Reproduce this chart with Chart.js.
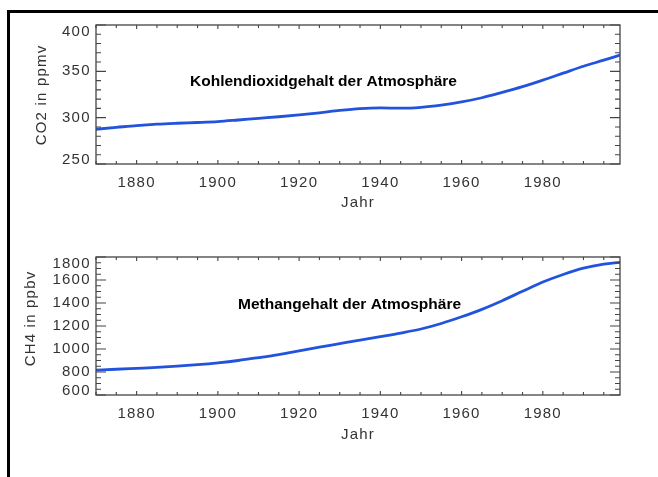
<!DOCTYPE html>
<html lang="de">
<head>
    <meta charset="UTF-8">
    <title>Kohlendioxid- und Methangehalt der Atmosphäre</title>
    <script src="https://cdn.jsdelivr.net/npm/chart.js"></script>
    <style>
        body { margin: 0; background: #fff; }
        .page { position: relative; width: 658px; height: 477px; overflow: hidden; background: #fff; }
        .frame { position: absolute; left: 7px; top: 10px; right: -10px; bottom: -10px;
                 border-top: 3px solid #000; border-left: 3px solid #000; }
        canvas { position: absolute; left: 0; }
        #co2Chart { top: 0; }
        #ch4Chart { top: 240px; }
    </style>
</head>
<body>
<div class="page">
    <div class="frame"></div>
    <canvas id="co2Chart" width="658" height="240"></canvas>
    <canvas id="ch4Chart" width="658" height="237"></canvas>
</div>

<script>
    // Data
    const years = [1870, 1875, 1880, 1885, 1890, 1895, 1900, 1905, 1910, 1915, 1920, 1925, 1930, 1935,
                   1940, 1945, 1950, 1955, 1960, 1965, 1970, 1975, 1980, 1985, 1990, 1995, 1999];
    const co2Values = [287.5, 289.5, 291.5, 293, 294, 294.8, 295.8, 297.5, 299.3, 301, 303, 305.2, 307.8, 309.8,
                       310.6, 310.2, 311.2, 313.6, 317, 321.5, 327.3, 333.5, 340.5, 348, 355.5, 362, 367.5];
    const ch4Values = [817, 824, 832, 840, 851, 864, 880, 900, 925, 952, 984, 1016, 1047, 1078,
                       1108, 1139, 1174, 1222, 1280, 1345, 1420, 1502, 1582, 1648, 1703, 1738, 1754];

    // Tick labels
    const yearTicks = [1880, 1900, 1920, 1940, 1960, 1980];
    const co2Ticks = [250, 300, 350, 400];
    const ch4Ticks = [600, 800, 1000, 1200, 1400, 1600, 1800];

    const textColor = '#333';
    const tickFont = { family: 'Liberation Sans, Arial, sans-serif', size: 15 };
    const lineColor = '#2153dc';

    // IDL-style box with inward ticks, clamped y labels and inner titles
    const idlAxes = {
        id: 'idlAxes',
        beforeDraw(chart) {
            chart.ctx.letterSpacing = '1.2px';
        },
        afterDraw(chart, args, opts) {
            const { ctx, chartArea: a, scales: { x, y } } = chart;
            ctx.save();
            ctx.strokeStyle = '#444';
            ctx.lineWidth = 1.3;
            ctx.strokeRect(a.left, a.top, a.right - a.left, a.bottom - a.top);

            ctx.lineWidth = 1.1;
            ctx.beginPath();
            // x ticks, bottom and top
            for (let v = opts.xMin; v <= opts.xMax; v += opts.xMinor) {
                const px = x.getPixelForValue(v);
                const len = v % opts.xMajor === 0 ? 4 : 3;
                ctx.moveTo(px, a.bottom); ctx.lineTo(px, a.bottom - len);
                ctx.moveTo(px, a.top); ctx.lineTo(px, a.top + len);
            }
            // y ticks, left and right
            for (let v = y.min; v <= y.max; v += opts.yMinor) {
                const py = y.getPixelForValue(v);
                const len = v % opts.yMajor === 0 ? 10 : 5;
                ctx.moveTo(a.left, py); ctx.lineTo(a.left + len, py);
                ctx.moveTo(a.right, py); ctx.lineTo(a.right - len, py);
            }
            ctx.stroke();

            // y tick labels, kept inside the axis extent
            ctx.font = `${tickFont.size}px ${tickFont.family}`;
            ctx.fillStyle = textColor;
            ctx.textAlign = 'right';
            ctx.textBaseline = 'middle';
            opts.yLabels.forEach(v => {
                let py = y.getPixelForValue(v);
                py = Math.min(Math.max(py, a.top + 6.7), a.bottom - 4.5);
                ctx.fillText(String(v), a.left - 5.3, py);
            });

            // y axis title
            ctx.save();
            ctx.translate(opts.yTitleX, opts.yTitleY);
            ctx.rotate(-Math.PI / 2);
            ctx.textAlign = 'center';
            ctx.fillText(opts.yTitle, 0, 0);
            ctx.restore();

            // bold title inside the plot
            ctx.letterSpacing = '0px';
            ctx.font = 'bold 15.5px Liberation Sans, Arial, sans-serif';
            ctx.fillStyle = '#000';
            ctx.textAlign = 'left';
            ctx.fillText(opts.title, opts.titleX, opts.titleY);
            ctx.restore();
        }
    };

    function makeChart(canvasId, values, yMin, yMax, yLabels, cfg) {
        const ctx = document.getElementById(canvasId).getContext('2d');
        return new Chart(ctx, {
            type: 'line',
            data: {
                datasets: [{
                    data: years.map((yr, i) => ({ x: yr, y: values[i] })),
                    borderColor: lineColor,
                    borderWidth: 2.8,
                    pointRadius: 0,
                    cubicInterpolationMode: 'monotone',
                    fill: false
                }]
            },
            options: {
                responsive: false,
                animation: false,
                layout: { padding: { left: 0, right: 38, top: cfg.top, bottom: 0 } },
                plugins: {
                    legend: { display: false },
                    tooltip: { enabled: false },
                    idlAxes: {
                        xMin: 1870, xMax: 1999, xMinor: 5, xMajor: 20,
                        yMinor: cfg.yMinor, yMajor: cfg.yMajor,
                        yLabels: yLabels,
                        yTitle: cfg.yTitle, yTitleX: cfg.yTitleX, yTitleY: cfg.yTitleY,
                        title: cfg.title, titleX: cfg.titleX, titleY: cfg.titleY
                    }
                },
                scales: {
                    x: {
                        type: 'linear',
                        min: 1870,
                        max: 1999,
                        grid: { display: false, drawTicks: false },
                        border: { display: false },
                        afterBuildTicks: s => { s.ticks = yearTicks.map(v => ({ value: v })); },
                        afterFit: s => { s.height = cfg.xHeight; },
                        ticks: {
                            autoSkip: false,
                            maxRotation: 0,
                            padding: 10,
                            color: textColor,
                            font: tickFont,
                            callback: v => String(v)
                        },
                        title: {
                            display: true,
                            text: 'Jahr',
                            color: textColor,
                            font: tickFont,
                            padding: { top: 0, bottom: cfg.xTitlePad }
                        }
                    },
                    y: {
                        min: yMin,
                        max: yMax,
                        grid: { display: false, drawTicks: false },
                        border: { display: false },
                        ticks: { display: false },
                        afterFit: s => { s.width = 96; }
                    }
                }
            },
            plugins: [idlAxes]
        });
    }

    makeChart('co2Chart', co2Values, 250, 400, co2Ticks, {
        top: 25, xHeight: 76, xTitlePad: 28,
        yMinor: 10, yMajor: 50,
        yTitle: 'CO2 in ppmv', yTitleX: 41.5, yTitleY: 95,
        title: 'Kohlendioxidgehalt der Atmosphäre', titleX: 190, titleY: 82
    });

    makeChart('ch4Chart', ch4Values, 600, 1800, ch4Ticks, {
        top: 17, xHeight: 82, xTitlePad: 33,
        yMinor: 50, yMajor: 200,
        yTitle: 'CH4 in ppbv', yTitleX: 30.5, yTitleY: 78.5,
        title: 'Methangehalt der Atmosphäre', titleX: 238, titleY: 65
    });
</script>
</body>
</html>
